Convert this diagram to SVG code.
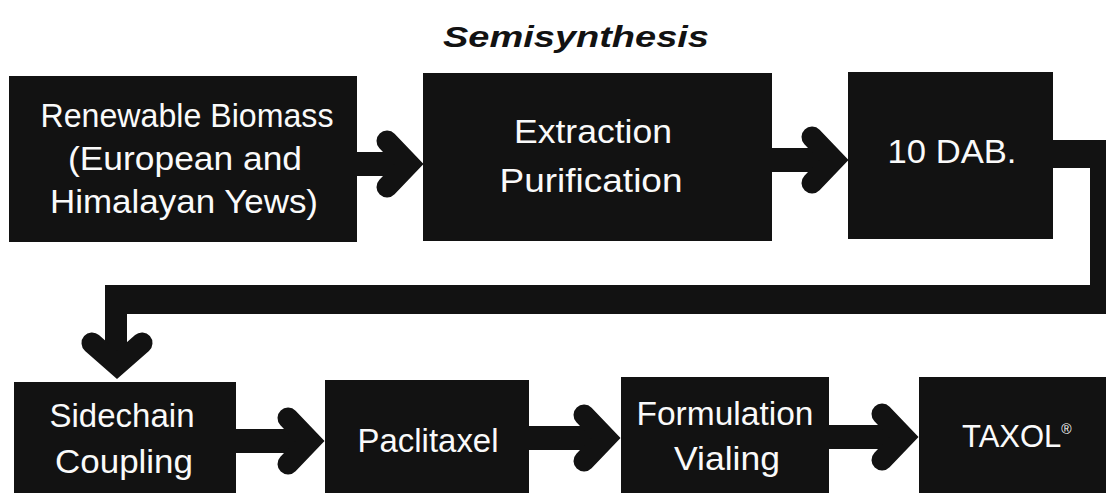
<svg xmlns="http://www.w3.org/2000/svg" width="1106" height="493" viewBox="0 0 1106 493">
<style>
.box{fill:#121212}
.lbl{fill:#fafafa;font-family:"Liberation Sans",Arial,sans-serif;font-size:33px;text-anchor:middle}
.title{fill:#121212;font-family:"Liberation Sans",Arial,sans-serif;font-size:30px;font-weight:bold;font-style:italic;text-anchor:middle}
.shaft{fill:#121212}
.head{fill:none;stroke:#121212;stroke-width:21;stroke-linecap:round;stroke-linejoin:miter;stroke-miterlimit:10}
</style>
<rect x="0" y="0" width="1106" height="493" fill="#ffffff"/>
<text class="title" x="576" y="47" textLength="266" lengthAdjust="spacingAndGlyphs">Semisynthesis</text>

<g id="connectors">
  <rect class="shaft" x="355" y="152" width="56" height="24"/>
  <path class="head" d="M387,141 L409,164 L387,187"/>
  <rect class="shaft" x="770" y="148" width="66" height="24"/>
  <path class="head" d="M812,137 L834,160 L812,183"/>
  <rect class="shaft" x="1050" y="140" width="70" height="28"/>
  <rect class="shaft" x="1090" y="140" width="30" height="174"/>
  <rect class="shaft" x="105" y="285" width="1015" height="29"/>
  <rect class="shaft" x="105" y="285" width="22" height="82"/>
  <path class="head" d="M92,343 L117,365 L142,343"/>
  <rect class="shaft" x="234" y="429" width="78" height="24"/>
  <path class="head" d="M288,418 L310,441 L288,464"/>
  <rect class="shaft" x="527" y="426" width="81" height="24"/>
  <path class="head" d="M584,415 L606,438 L584,461"/>
  <rect class="shaft" x="827" y="425" width="79" height="24"/>
  <path class="head" d="M882,414 L904,437 L882,460"/>
</g>

<g id="node-biomass">
  <rect class="box" x="9" y="76" width="348" height="166"/>
  <text class="lbl" x="187" y="127" textLength="293" lengthAdjust="spacingAndGlyphs">Renewable Biomass</text>
  <text class="lbl" x="185" y="170" textLength="234" lengthAdjust="spacingAndGlyphs">(European and</text>
  <text class="lbl" x="184" y="213" textLength="268" lengthAdjust="spacingAndGlyphs">Himalayan Yews)</text>
</g>
<g id="node-extraction">
  <rect class="box" x="423" y="73" width="349" height="168"/>
  <text class="lbl" x="593" y="143" textLength="158" lengthAdjust="spacingAndGlyphs">Extraction</text>
  <text class="lbl" x="591" y="192" textLength="183" lengthAdjust="spacingAndGlyphs">Purification</text>
</g>
<g id="node-10dab">
  <rect class="box" x="848" y="72" width="205" height="167"/>
  <text class="lbl" x="952" y="163" textLength="129" lengthAdjust="spacingAndGlyphs">10 DAB.</text>
</g>
<g id="node-sidechain">
  <rect class="box" x="14" y="382" width="222" height="115"/>
  <text class="lbl" x="122" y="427" textLength="145" lengthAdjust="spacingAndGlyphs">Sidechain</text>
  <text class="lbl" x="124" y="473" textLength="138" lengthAdjust="spacingAndGlyphs">Coupling</text>
</g>
<g id="node-paclitaxel">
  <rect class="box" x="325" y="380" width="204" height="117"/>
  <text class="lbl" x="428" y="452" textLength="141" lengthAdjust="spacingAndGlyphs">Paclitaxel</text>
</g>
<g id="node-formulation">
  <rect class="box" x="621" y="377" width="208" height="120"/>
  <text class="lbl" x="725" y="425" textLength="177" lengthAdjust="spacingAndGlyphs">Formulation</text>
  <text class="lbl" x="727" y="470" textLength="106" lengthAdjust="spacingAndGlyphs">Vialing</text>
</g>
<g id="node-taxol">
  <rect class="box" x="919" y="377" width="190" height="120"/>
  <text class="lbl" x="962" y="447" style="text-anchor:start;font-size:31px">TAXOL<tspan style="font-size:14px" dy="-13">®</tspan></text>
</g>
</svg>
